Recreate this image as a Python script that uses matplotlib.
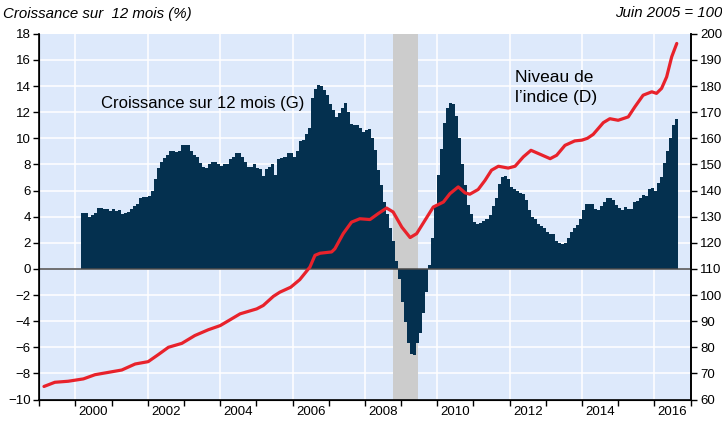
import numpy as np
import pandas as pd
import matplotlib
matplotlib.use('Agg')
import matplotlib.pyplot as plt

plt.rcParams['font.family'] = ['Liberation Sans', 'DejaVu Sans']

# ---- données ----
# croissance sur 12 mois (%), mensuelle, à partir de mars 2000
growth_start = '2000-03'
growth_yoy = [
    4.3, 4.25, 4.0, 4.15, 4.25, 4.7, 4.7, 4.6, 4.6, 4.4,
    4.55, 4.4, 4.5, 4.2, 4.3, 4.35, 4.55, 4.8, 5.0, 5.4,
    5.5, 5.5, 5.6, 6.0, 6.85, 7.7, 8.2, 8.5, 8.75, 9.0,
    9.0, 8.95, 9.0, 9.5, 9.5, 9.5, 9.0, 8.75, 8.55, 8.1,
    7.8, 7.75, 8.0, 8.2, 8.2, 8.0, 7.85, 8.0, 8.05, 8.4,
    8.6, 8.85, 8.9, 8.6, 8.2, 7.8, 7.8, 8.0, 7.75, 7.65,
    7.15, 7.65, 7.8, 8.0, 7.2, 8.4, 8.5, 8.6, 8.85, 8.85,
    8.6, 9.05, 9.8, 9.85, 10.3, 10.8, 13.1, 13.75, 14.1, 14.0,
    13.7, 13.3, 12.6, 12.2, 11.6, 11.9, 12.35, 12.7, 12.0, 11.1,
    11.05, 11.05, 10.8, 10.5, 10.6, 10.7, 10.0, 9.1, 7.6, 6.4,
    5.1, 4.2, 3.1, 2.1, 0.6, -0.8, -2.5, -4.1, -5.7, -6.5,
    -6.6, -5.7, -4.9, -3.4, -1.8, 0.3, 2.4, 4.9, 7.2, 9.15,
    11.2, 12.3, 12.7, 12.65, 11.7, 10.0, 8.0, 6.4, 4.9, 4.2,
    3.6, 3.45, 3.55, 3.7, 3.85, 4.1, 4.8, 5.45, 6.5, 7.0,
    7.1, 6.9, 6.3, 6.1, 6.0, 5.85, 5.7, 5.3, 4.5, 4.0,
    3.8, 3.45, 3.25, 3.15, 2.85, 2.7, 2.65, 2.1, 1.95, 1.9,
    1.95, 2.4, 2.8, 3.15, 3.4, 3.85, 4.5, 5.0, 5.0, 4.95,
    4.6, 4.5, 4.85, 5.1, 5.45, 5.45, 5.25, 4.9, 4.65, 4.5,
    4.75, 4.6, 4.6, 5.1, 5.2, 5.4, 5.65, 5.6, 6.1, 6.2,
    5.95, 6.55, 7.05, 8.1, 9.0, 10.05, 11.0, 11.45,
]

# niveau de l'indice (juin 2005 = 100), en années décimales
index_dates = [
    1999.13, 1999.43, 1999.8, 2000.22, 2000.54, 2000.91, 2001.28, 2001.65,
    2002.01, 2002.29, 2002.57, 2002.94, 2003.3, 2003.67, 2004.0, 2004.27,
    2004.55, 2005.01, 2005.19, 2005.47, 2005.65, 2005.95, 2006.2, 2006.48,
    2006.62, 2006.76, 2007.08, 2007.17, 2007.4, 2007.63, 2007.86, 2008.14,
    2008.37, 2008.6, 2008.78, 2009.02, 2009.25, 2009.43, 2009.66, 2009.89,
    2010.17, 2010.35, 2010.58, 2010.77, 2010.9, 2011.13, 2011.32, 2011.5,
    2011.69, 2011.96, 2012.15, 2012.38, 2012.59, 2012.84, 2013.12, 2013.3,
    2013.53, 2013.8, 2014.0, 2014.15, 2014.31, 2014.59, 2014.77, 2015.0,
    2015.28, 2015.46, 2015.69, 2015.93, 2016.06, 2016.2, 2016.34, 2016.48,
    2016.62,
]
index_level = [
    65.0, 66.6, 67.0, 67.9, 69.5, 70.4, 71.3, 73.6,
    74.5, 77.2, 80.0, 81.5, 84.5, 86.7, 88.3, 90.5,
    92.8, 94.7, 96.0, 99.5, 101.1, 103.0, 105.9, 110.7,
    115.2, 116.0, 116.5, 117.7, 123.5, 127.9, 129.2, 128.9,
    131.2, 133.3, 131.8, 126.0, 122.0, 123.5, 128.6, 133.7,
    135.6, 138.8, 141.4, 139.1, 138.6, 140.4, 143.9, 147.8,
    149.3, 148.6, 149.3, 152.9, 155.4, 153.9, 152.2, 153.5,
    157.3, 159.0, 159.3, 160.0, 161.5, 166.0, 167.5, 166.9,
    168.2, 172.0, 176.5, 177.8, 177.2, 179.1, 183.5, 191.2,
    196.3,
]

recession = (2008.78, 2009.46)
label_years = list(range(2000, 2017, 2))

# ---- figure ----
months = pd.date_range(growth_start, periods=len(growth_yoy), freq='MS')
x_bar = months.year + (months.month - 1) / 12

fig = plt.figure(figsize=(7.22, 4.21), dpi=100)
ax = fig.add_axes([0.0544, 0.0510, 0.9020, 0.8687])
ax.set_facecolor('#dde9fb')
ax.set_xlim(1999, 2017)
ax.set_ylim(-10, 18)

left_ticks = list(range(-10, 19, 2))
for yv in left_ticks[1:-1]:
    ax.axhline(yv, color='white', lw=1.1, zorder=0.5)
for xv in label_years:
    ax.axvline(xv, color='white', lw=1.1, zorder=0.5)

ax.axvspan(recession[0], recession[1], color='#cccccc', lw=0, zorder=1)
ax.bar(x_bar, growth_yoy, width=1 / 12, align='edge', color='#04304f',
       lw=0, zorder=2)
ax.axhline(0, color='#4a4a4a', lw=1.1, zorder=3)

ax.set_yticks(left_ticks)
ax.set_xticks(range(1999, 2018))
ax.set_xticklabels([])
ax.set_xticks([y + 0.5 for y in label_years], minor=True)
ax.set_xticklabels([str(y) for y in label_years], minor=True)
ax.tick_params(axis='x', which='major', direction='out', length=4, width=1)
ax.tick_params(axis='x', which='minor', length=0, pad=4.5, labelsize=9.5)
ax.tick_params(axis='y', direction='out', length=4, width=1, pad=2,
               labelsize=9.5)

for side in ['left', 'bottom', 'right']:
    ax.spines[side].set_linewidth(1.2)
    ax.spines[side].set_color('black')
ax.spines['top'].set_visible(False)

ax2 = ax.twinx()
ax2.set_ylim(60, 200)
ax2.set_yticks(range(60, 201, 10))
ax2.plot(index_dates, index_level, color='#e8222b', lw=2.3,
         solid_capstyle='round', solid_joinstyle='round', zorder=4)
ax2.tick_params(axis='y', direction='out', length=4, width=1, pad=3,
                labelsize=9.5)
ax2.spines['top'].set_visible(False)
ax2.spines['right'].set_linewidth(1.2)

ax.text(2003.51, 12.7, 'Croissance sur 12 mois (G)', fontsize=12,
        ha='center', va='center', zorder=5)
ax.text(2012.15, 13.9, 'Niveau de\nl’indice (D)', fontsize=12.5,
        ha='left', va='center', linespacing=1.4, zorder=5)

fig.text(3 / 722, 1 - 14 / 421, 'Croissance sur  12 mois (%)',
         style='italic', fontsize=10.8, ha='left', va='center')
fig.text(1.0, 1 - 13 / 421, 'Juin 2005 = 100',
         style='italic', fontsize=10.8, ha='right', va='center')

fig.savefig('out.png', dpi=100)
